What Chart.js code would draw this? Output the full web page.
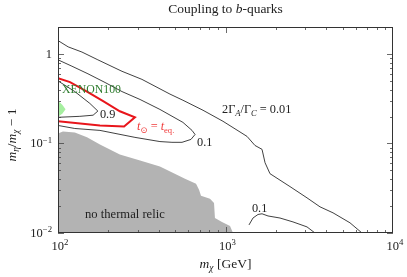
<!DOCTYPE html>
<html>
<head>
<meta charset="utf-8">
<script src="https://cdn.jsdelivr.net/npm/chart.js@4.4.0/dist/chart.umd.min.js"></script>
<style>
  html, body { margin: 0; padding: 0; background: #fff; }
</style>
</head>
<body>
<canvas id="chart" width="407" height="277"></canvas>
<script>
// contour 2Γ_A/Γ_C = 0.01
const outerX = [100, 115, 139, 173, 241, 317, 466, 557, 734, 966, 1344, 1500, 1652, 1722, 1843, 2427, 3066, 3666, 4385, 5535, 6530];
const outerY = [1.41, 1.20, 1.05, 0.86, 0.64, 0.52, 0.356, 0.304, 0.235, 0.177, 0.120, 0.095, 0.086, 0.061, 0.046, 0.033, 0.0247, 0.0196, 0.0168, 0.0130, 0.010];

// contour 0.1 (upper left loop)
const midX = [100, 121, 151, 191, 241, 309, 406, 557, 631, 658, 622, 550, 479, 406, 288, 178, 126, 100];
const midY = [0.86, 0.73, 0.60, 0.48, 0.38, 0.31, 0.24, 0.172, 0.140, 0.126, 0.111, 0.103, 0.103, 0.105, 0.117, 0.140, 0.147, 0.159];

// contour 0.1 (lower right)
const lowX = [1381, 1459, 1563, 1652, 1794, 2115, 2529, 3066, 3421];
const lowY = [0.0123, 0.0147, 0.0161, 0.0164, 0.0155, 0.0147, 0.0133, 0.0117, 0.010];

// contour 0.9
const innerX = [100, 126, 155, 173, 162, 135, 100];
const innerY = [0.50, 0.38, 0.28, 0.23, 0.207, 0.201, 0.196];

// t_sun = t_eq
const redX = [100, 118, 149, 186, 234, 288, 248, 178, 100];
const redY = [0.537, 0.484, 0.38, 0.297, 0.229, 0.196, 0.155, 0.159, 0.177];

// XENON100 excluded
const xenonX = [100, 106, 111, 106, 100, 100];
const xenonY = [0.30, 0.27, 0.241, 0.215, 0.199, 0.30];

// no thermal relic
const relicX = [100, 107, 126, 149, 178, 234, 309, 406, 573, 667, 695, 714, 808, 854, 865, 953, 1064, 1109];
const relicY = [0.1295, 0.1364, 0.133, 0.117, 0.0975, 0.0752, 0.0644, 0.0552, 0.0404, 0.0355, 0.0304, 0.0260, 0.0241, 0.0217, 0.0147, 0.0133, 0.0120, 0.010];

const xMajor = [100, 1000, 10000];
const xTickExp = ['2', '3', '4'];
const yMajor = [0.01, 0.1, 1];
const yTickExp = ['−2', '−1', ''];

const SERIF = '"Liberation Serif", "DejaVu Serif", serif';

function pts(xs, ys) {
  return xs.map((v, i) => ({ x: v, y: ys[i] }));
}

function curve(xs, ys, color, width, order) {
  return {
    data: pts(xs, ys), showLine: true, borderColor: color, borderWidth: width,
    pointRadius: 0, tension: 0, fill: false, order: order
  };
}

// segments: {t, i (italic), sub, sup}
function drawRich(ctx, segs, x, y, size, align, color) {
  const parts = segs.map(s => {
    const small = s.sub || s.sup;
    const fs = small ? size * 0.7 : size;
    const font = (s.i ? 'italic ' : '') + fs + 'px ' + SERIF;
    ctx.font = font;
    return { t: s.t, font: font, w: ctx.measureText(s.t).width, dy: s.sub ? size * 0.22 : (s.sup ? -size * 0.38 : 0) };
  });
  const total = parts.reduce((a, p) => a + p.w, 0);
  let cx = align === 'center' ? x - total / 2 : (align === 'right' ? x - total : x);
  ctx.fillStyle = color;
  ctx.textAlign = 'left';
  ctx.textBaseline = 'alphabetic';
  parts.forEach(p => {
    ctx.font = p.font;
    ctx.fillText(p.t, cx, y + p.dy);
    cx += p.w;
  });
}

const overlay = {
  id: 'overlay',
  afterDraw(chart) {
    const { ctx, chartArea: a, scales: { x, y } } = chart;
    ctx.save();

    // minor + major ticks, inward on all sides
    ctx.strokeStyle = '#444';
    ctx.lineWidth = 0.8;
    ctx.beginPath();
    for (let d = 100; d < 10000; d *= 10) {
      for (let m = 1; m <= 9; m++) {
        const v = d * m;
        const px = Math.round(x.getPixelForValue(v)) + 0.5;
        const len = m === 1 ? 6 : 3;
        ctx.moveTo(px, a.bottom); ctx.lineTo(px, a.bottom - len);
        ctx.moveTo(px, a.top); ctx.lineTo(px, a.top + len);
      }
    }
    for (let d = 0.01; d < 2; d *= 10) {
      for (let m = 1; m <= 9; m++) {
        const v = d * m;
        if (v > 2.001) break;
        const py = Math.round(y.getPixelForValue(v)) + 0.5;
        const len = m === 1 ? 6 : 3;
        ctx.moveTo(a.left, py); ctx.lineTo(a.left + len, py);
        ctx.moveTo(a.right, py); ctx.lineTo(a.right - len, py);
      }
    }
    ctx.stroke();

    // frame
    ctx.strokeStyle = '#333';
    ctx.lineWidth = 1;
    ctx.strokeRect(a.left + 0.5, a.top + 0.5, a.right - a.left - 1, a.bottom - a.top - 1);

    // tick labels
    xMajor.forEach((v, i) => {
      drawRich(ctx, [{ t: '10' }, { t: xTickExp[i], sup: true }], x.getPixelForValue(v) + 2, a.bottom + 17, 12.5, 'center', '#222');
    });
    yMajor.forEach((v, i) => {
      const segs = yTickExp[i] ? [{ t: '10' }, { t: yTickExp[i], sup: true }] : [{ t: '1' }];
      drawRich(ctx, segs, a.left - 6, y.getPixelForValue(v) + 4, 12.5, 'right', '#222');
    });

    // title
    drawRich(ctx, [{ t: 'Coupling to ' }, { t: 'b', i: true }, { t: '-quarks' }], (a.left + a.right) / 2, 13, 13.5, 'center', '#222');

    // axis titles
    drawRich(ctx, [{ t: 'm', i: true }, { t: 'χ', i: true, sub: true }, { t: ' [GeV]' }], (a.left + a.right) / 2, 268, 13.5, 'center', '#222');
    ctx.save();
    ctx.translate(16, (a.top + a.bottom) / 2 + 5);
    ctx.rotate(-Math.PI / 2);
    drawRich(ctx, [{ t: 'm', i: true }, { t: 'η', i: true, sub: true }, { t: '/' }, { t: 'm', i: true }, { t: 'χ', i: true, sub: true }, { t: ' − 1' }], 0, 0, 13.5, 'center', '#222');
    ctx.restore();

    // in-plot labels
    const at = (vx, vy) => [x.getPixelForValue(vx), y.getPixelForValue(vy)];
    let p;
    p = at(105.6, 0.405);
    drawRich(ctx, [{ t: 'XENON100' }], p[0], p[1] + 4, 11.8, 'left', '#2f7d2f');
    p = at(178, 0.212);
    drawRich(ctx, [{ t: '0.9' }], p[0], p[1] + 4, 12.3, 'left', '#222');
    p = at(296, 0.151);
    drawRich(ctx, [{ t: 't', i: true }, { t: '⊙', sub: true }, { t: ' = ' }, { t: 't', i: true }, { t: 'eq.', sub: true }], p[0], p[1] + 3, 12.3, 'left', '#f03c3c');
    p = at(676, 0.105);
    drawRich(ctx, [{ t: '0.1' }], p[0], p[1] + 4, 12.3, 'left', '#222');
    p = at(953, 0.241);
    drawRich(ctx, [{ t: '2Γ' }, { t: 'A', i: true, sub: true }, { t: '/Γ' }, { t: 'C', i: true, sub: true }, { t: ' = 0.01' }], p[0], p[1] + 4, 12.3, 'left', '#222');
    p = at(145, 0.0164);
    drawRich(ctx, [{ t: 'no thermal relic' }], p[0], p[1] + 4, 12.6, 'left', '#222');
    p = at(1439, 0.0191);
    drawRich(ctx, [{ t: '0.1' }], p[0], p[1] + 4, 12.3, 'left', '#222');

    ctx.restore();
  }
};

new Chart(document.getElementById('chart'), {
  type: 'scatter',
  data: {
    datasets: [
      curve(outerX, outerY, '#2b2b2b', 0.9, 1),
      curve(midX, midY, '#2b2b2b', 0.9, 1),
      curve(lowX, lowY, '#2b2b2b', 0.9, 1),
      curve(innerX, innerY, '#2b2b2b', 0.9, 1),
      curve(redX, redY, '#e8151b', 2, 0),
      {
        data: pts(xenonX, xenonY), showLine: true, borderWidth: 0, borderColor: 'rgba(0,0,0,0)',
        backgroundColor: '#a6efa0', fill: 'shape', pointRadius: 0, tension: 0, order: 3
      },
      {
        data: pts(relicX, relicY), showLine: true, borderWidth: 0, borderColor: 'rgba(0,0,0,0)',
        backgroundColor: '#b3b3b3', fill: 'start', pointRadius: 0, tension: 0, order: 4
      }
    ]
  },
  options: {
    responsive: false,
    animation: false,
    devicePixelRatio: 1,
    layout: { padding: { left: 58, right: 14, top: 27, bottom: 44 } },
    plugins: { legend: { display: false }, title: { display: false }, tooltip: { enabled: false } },
    scales: {
      x: { type: 'logarithmic', min: 100, max: 10000, display: false },
      y: { type: 'logarithmic', min: 0.01, max: 2, display: false }
    }
  },
  plugins: [overlay]
});
</script>
</body>
</html>
